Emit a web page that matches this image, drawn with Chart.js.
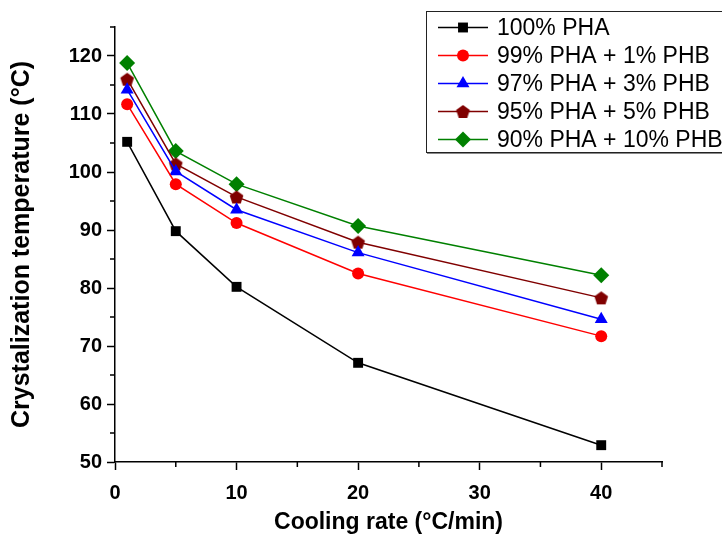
<!DOCTYPE html>
<html><head><meta charset="utf-8">
<script src="https://cdn.jsdelivr.net/npm/chart.js@4/dist/chart.umd.min.js"></script>
<style>html,body{margin:0;padding:0;background:#fff}#wrap{width:722px;height:538px;position:relative}</style>
</head><body><div id="wrap"><canvas id="c" width="722" height="538"></canvas></div>
<script>
const coolingRates = [1, 5, 10, 20, 40];
const seriesLabels = ['100% PHA', '99% PHA + 1% PHB', '97% PHA + 3% PHB', '95% PHA + 5% PHB', '90% PHA + 10% PHB'];
const pha100 = [105.2, 89.8, 80.2, 67.1, 52.9];
const phb1 = [111.7, 97.9, 91.2, 82.5, 71.7];
const phb3 = [114.2, 100.1, 93.5, 86.1, 74.6];
const phb5 = [116.0, 101.4, 95.7, 87.9, 78.3];
const phb10 = [118.8, 103.6, 97.9, 90.7, 82.2];
const xMajorTicks = [0, 10, 20, 30, 40];
const xMinorTicks = [5, 15, 25, 35, 45];
const yMajorTicks = [50, 60, 70, 80, 90, 100, 110, 120];
const yMinorTicks = [55, 65, 75, 85, 95, 105, 115, 125];
const xTitle = 'Cooling rate (°C/min)';
const yTitle = 'Crystalization temperature (°C)';

const FONT = "'Liberation Sans', Arial, Helvetica, sans-serif";

function pentagon(color, r) {
  const size = Math.ceil(r * 2 + 2);
  const cv = document.createElement('canvas');
  cv.width = size; cv.height = size;
  const g = cv.getContext('2d');
  g.fillStyle = color;
  g.beginPath();
  for (let i = 0; i < 5; i++) {
    const a = -Math.PI / 2 + i * 2 * Math.PI / 5;
    const px = size / 2 + r * Math.cos(a), py = size / 2 + 0.8 + r * Math.sin(a);
    if (i === 0) g.moveTo(px, py); else g.lineTo(px, py);
  }
  g.closePath(); g.fill();
  return cv;
}
const pentImg = pentagon('#800000', 7.2);

function pts(vals) { return coolingRates.map((x, i) => ({x: x, y: vals[i]})); }

const seriesVals = [pha100, phb1, phb3, phb5, phb10];
const colors = ['#000000', '#ff0000', '#0000ff', '#800000', '#008000'];
const styles = ['rect', 'circle', 'triangle', pentImg, 'rectRot'];
const radii = [7, 6, 7.5, 7.2, 8];

const datasets = seriesVals.map((v, i) => ({
  label: seriesLabels[i],
  data: pts(v),
  borderColor: colors[i],
  backgroundColor: colors[i],
  pointBackgroundColor: colors[i],
  pointBorderColor: colors[i],
  pointBorderWidth: 0,
  pointStyle: styles[i],
  pointRadius: radii[i],
  borderWidth: 1.5,
  tension: 0,
  fill: false
}));

function drawMarker(ctx, style, r, x, y, color) {
  if (Chart.helpers && Chart.helpers.drawPoint) {
    ctx.save();
    ctx.fillStyle = color; ctx.strokeStyle = color;
    Chart.helpers.drawPoint(ctx, {pointStyle: style, radius: r, rotation: 0, borderWidth: 0}, x, y);
    ctx.restore();
  }
}

const legendPlugin = {
  id: 'boxLegend',
  afterDraw(chart) {
    const ctx = chart.ctx;
    ctx.save();
    ctx.fillStyle = '#fff';
    ctx.fillRect(426.5, 11.5, 320, 141);
    ctx.strokeStyle = '#222';
    ctx.lineWidth = 1;
    ctx.strokeRect(426.5, 11.5, 320, 141);
    ctx.beginPath(); ctx.moveTo(427, 153.5); ctx.lineTo(722, 153.5); ctx.strokeStyle = '#888'; ctx.stroke();
    chart.data.datasets.forEach((ds, i) => {
      const y = 27.5 + i * 28;
      ctx.strokeStyle = ds.borderColor; ctx.lineWidth = 1.5;
      ctx.beginPath(); ctx.moveTo(438, y); ctx.lineTo(488, y); ctx.stroke();
      drawMarker(ctx, ds.pointStyle, ds.pointRadius, 463, y, ds.pointBackgroundColor);
      ctx.fillStyle = '#000';
      ctx.font = '23px ' + FONT;
      ctx.textBaseline = 'middle';
      ctx.textAlign = 'left';
      ctx.fillText(ds.label, 497, y + 1);
    });
    ctx.restore();
  }
};

const minorTickPlugin = {
  id: 'minorTicks',
  afterDraw(chart) {
    const ctx = chart.ctx, xs = chart.scales.x, ys = chart.scales.y, a = chart.chartArea;
    ctx.save();
    ctx.strokeStyle = '#000'; ctx.lineWidth = 1.5;
    ctx.beginPath();
    xMinorTicks.forEach(v => { const p = xs.getPixelForValue(v); ctx.moveTo(p, a.bottom); ctx.lineTo(p, a.bottom + 5); });
    yMinorTicks.forEach(v => { const p = ys.getPixelForValue(v); ctx.moveTo(a.left, p); ctx.lineTo(a.left - 5, p); });
    ctx.stroke();
    ctx.restore();
  }
};

new Chart(document.getElementById('c'), {
  type: 'line',
  data: {datasets: datasets},
  options: {
    responsive: false,
    animation: false,
    devicePixelRatio: 1,
    layout: {padding: {top: 27, right: 60, left: 0, bottom: 0}},
    plugins: {legend: {display: false}, tooltip: {enabled: false}, title: {display: false}},
    scales: {
      x: {
        type: 'linear', position: 'bottom', min: 0, max: 45,
        afterBuildTicks: s => { s.ticks = xMajorTicks.map(v => ({value: v})); },
        afterFit: s => { s.height = 76; },
        grid: {display: true, drawOnChartArea: false, drawTicks: true, tickLength: 8, tickColor: '#000', tickWidth: 1.5},
        border: {display: true, color: '#000', width: 1.5},
        ticks: {color: '#000', padding: 11, maxRotation: 0, font: {family: FONT, size: 20, weight: 'bold'}},
        title: {display: true, text: xTitle, color: '#000', padding: {top: 0, bottom: 2}, font: {family: FONT, size: 23, weight: 'bold'}}
      },
      y: {
        type: 'linear', position: 'left', min: 50, max: 125,
        afterBuildTicks: s => { s.ticks = yMajorTicks.map(v => ({value: v})); },
        afterFit: s => { s.width = 115; },
        grid: {display: true, drawOnChartArea: false, drawTicks: true, tickLength: 8, tickColor: '#000', tickWidth: 1.5},
        border: {display: true, color: '#000', width: 1.5},
        ticks: {color: '#000', padding: 5, font: {family: FONT, size: 20, weight: 'bold'}},
        title: {display: true, text: yTitle, color: '#000', padding: {top: 7, bottom: 0}, font: {family: FONT, size: 25, weight: 'bold'}}
      }
    }
  },
  plugins: [minorTickPlugin, legendPlugin]
});
</script>
</body></html>
